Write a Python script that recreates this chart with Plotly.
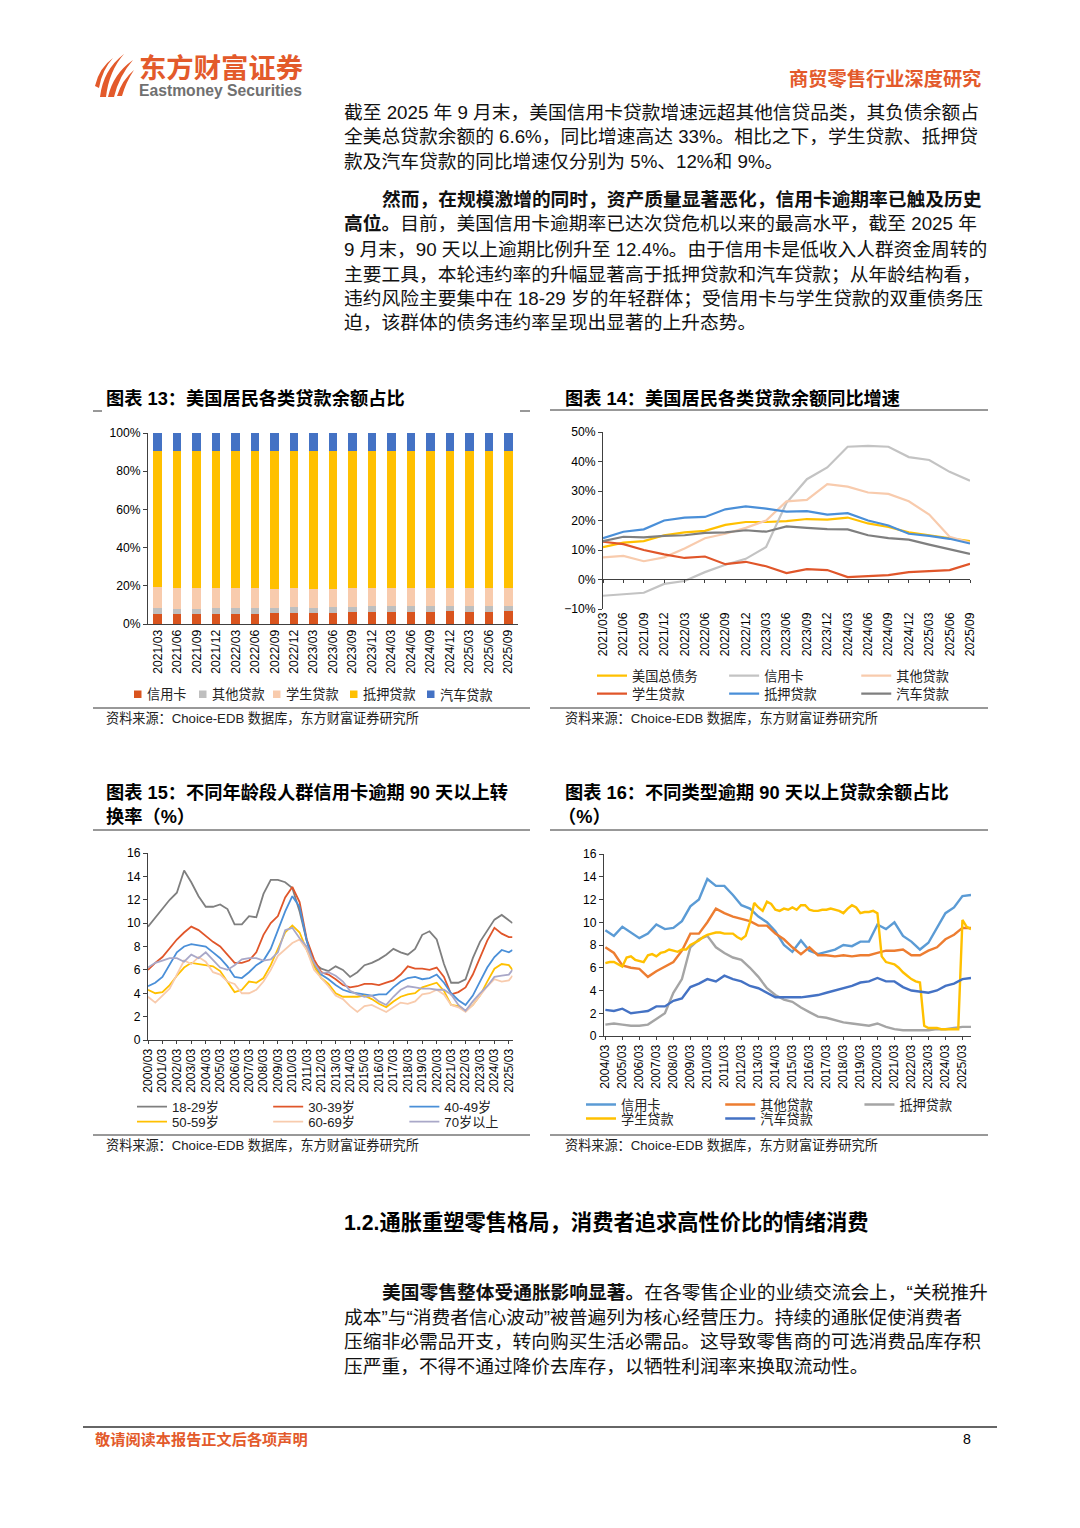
import plotly.graph_objects as go

W, H = 1080, 1528
FONT = "Liberation Sans, Noto Sans CJK SC, sans-serif"
ORANGE = "#E35A2B"
# the rendered page shows the figure inset by ~7px on every side; map reference pixels accordingly
PAD = 7
FS = W / (W - 2 * PAD)


def px(x):
    return (x - PAD) / (W - 2 * PAD)


def py(y):
    return 1 - (y - PAD) / (H - 2 * PAD)


# ---------------- data ----------------
# Chart 13: share of household loan balances (%)
quarters = ["2021/03", "2021/06", "2021/09", "2021/12", "2022/03", "2022/06", "2022/09",
            "2022/12", "2023/03", "2023/06", "2023/09", "2023/12", "2024/03", "2024/06",
            "2024/09", "2024/12", "2025/03", "2025/06", "2025/09"]
share_names = ["信用卡", "其他贷款", "学生贷款", "抵押贷款", "汽车贷款"]
share_credit = [5.3, 5.2, 5.2, 5.4, 5.3, 5.5, 5.7, 5.8, 5.7, 6.0, 6.1, 6.4, 6.3, 6.4, 6.4, 6.6, 6.4, 6.5, 6.6]
share_other = [2.9, 2.9, 2.9, 2.9, 2.9, 2.9, 2.8, 2.9, 2.8, 2.8, 2.9, 3.0, 2.9, 2.9, 2.9, 3.0, 2.9, 2.9, 2.9]
share_student = [11.0, 10.9, 10.7, 10.6, 10.4, 10.2, 9.9, 9.9, 9.8, 9.7, 9.7, 9.6, 9.5, 9.5, 9.4, 9.4, 9.4, 9.3, 9.2]
share_mortgage = [71.3, 71.4, 71.6, 71.5, 71.8, 71.8, 72.0, 71.8, 72.1, 72.0, 71.8, 71.5, 71.9, 71.8, 72.0, 71.7, 72.1, 72.1, 72.1]
share_auto = [9.5, 9.6, 9.6, 9.6, 9.6, 9.6, 9.6, 9.6, 9.6, 9.5, 9.5, 9.5, 9.4, 9.4, 9.3, 9.3, 9.2, 9.2, 9.2]
share_colors = ["#D9541E", "#BFBFBF", "#F8CBAD", "#FFC000", "#4472C4"]

# Chart 14: YoY growth of balances (%)
growth_names = ["美国总债务", "信用卡", "其他贷款", "学生贷款", "抵押贷款", "汽车贷款"]
growth_total = [11.0, 12.5, 13.0, 15.0, 16.0, 16.5, 18.5, 19.5, 19.5, 19.8, 20.5, 20.3, 21.0, 19.0, 17.8, 16.0, 15.0, 14.0, 13.0]
growth_card = [-5.5, -5.0, -4.5, -1.5, -0.5, 2.5, 5.0, 7.0, 11.0, 26.0, 34.0, 38.0, 45.0, 45.3, 45.0, 41.5, 40.5, 36.5, 33.5]
growth_other = [7.5, 8.0, 6.2, 7.5, 10.5, 14.0, 15.5, 17.5, 20.0, 26.5, 27.0, 32.3, 31.5, 29.5, 29.0, 26.5, 22.0, 14.5, 12.5]
growth_student = [12.8, 12.0, 10.0, 8.5, 7.3, 7.8, 5.2, 6.0, 4.5, 2.2, 3.5, 3.2, 0.8, 1.2, 1.5, 2.5, 2.8, 3.2, 5.3]
growth_mortgage = [14.0, 16.2, 17.0, 20.0, 21.0, 21.2, 23.8, 24.8, 24.0, 23.0, 23.2, 22.0, 22.5, 20.0, 18.3, 15.5, 14.8, 13.8, 12.2]
growth_auto = [13.0, 14.5, 14.3, 14.8, 15.0, 15.8, 16.0, 16.7, 16.2, 18.0, 17.5, 17.1, 17.0, 15.0, 14.0, 13.5, 11.8, 10.3, 8.7]
growth_colors = ["#FFC000", "#C3C3C3", "#F8CBAD", "#E0562A", "#4A8FD8", "#7F7F7F"]

# Chart 15: credit card 90+ day transition rate by age (%)
dates15 = [f"{y}-{m:02d}-01" for y in range(2000, 2025) for m in (3, 9)] + ["2025-03-01", "2025-06-01"]
age_names = ["18-29岁", "30-39岁", "40-49岁", "50-59岁", "60-69岁", "70岁以上"]
age_18_29 = [9.7, 10.5, 11.3, 12.0, 12.6, 14.5, 13.5, 12.3, 11.4, 11.4, 11.6, 11.2, 9.9, 9.9, 10.6, 10.5,
             12.5, 13.7, 13.7, 13.5, 13.0, 11.0, 8.5, 6.6, 6.1, 5.9, 6.3, 6.0, 5.4, 5.8, 6.4, 6.6,
             6.9, 7.3, 7.8, 7.5, 7.3, 7.8, 9.0, 9.3, 8.6, 6.5, 4.9, 4.9, 5.2, 7.0, 8.4, 9.4, 10.3, 10.7, 10.2, 10.0]
age_30_39 = [6.0, 6.6, 7.1, 7.9, 8.6, 9.2, 9.7, 9.4, 8.9, 8.4, 8.0, 7.3, 6.6, 6.6, 6.8, 7.5,
             9.0, 10.0, 10.6, 12.2, 13.1, 11.8, 8.6, 6.9, 5.8, 5.6, 5.2, 4.7, 4.5, 4.6, 4.8, 4.8,
             4.7, 4.9, 5.1, 5.6, 6.3, 6.1, 6.1, 6.0, 6.2, 5.4, 3.9, 4.1, 4.5, 5.6, 7.0, 8.5, 9.6, 9.1, 8.8, 8.8]
age_40_49 = [4.6, 4.9, 5.4, 6.5, 7.5, 8.0, 8.2, 8.1, 8.0, 7.5, 7.0, 6.3, 5.4, 5.3, 5.8, 6.4,
             6.8, 7.8, 9.4, 11.0, 12.3, 11.4, 8.5, 6.4, 5.6, 5.2, 4.7, 4.3, 4.1, 4.0, 3.9, 3.8,
             3.9, 3.9, 4.5, 5.0, 5.3, 5.4, 5.2, 5.3, 5.6, 4.9, 4.0, 3.4, 3.0, 3.8, 5.0, 6.2, 7.1, 7.7, 7.5, 7.7]
age_50_59 = [4.3, 4.0, 4.1, 4.7, 5.5, 6.2, 6.6, 6.5, 6.4, 6.3, 5.9, 5.0, 4.1, 4.3, 5.0, 4.9,
             5.3, 6.4, 7.8, 9.2, 9.8, 9.2, 7.7, 6.3, 5.3, 4.8, 4.0, 3.7, 3.7, 3.7, 3.8, 3.5,
             3.1, 2.8, 3.3, 3.7, 3.9, 4.0, 4.5, 4.7, 4.9, 4.2, 3.0, 2.9, 2.5, 3.0, 3.8, 5.0, 6.1, 6.5, 6.4, 6.0]
age_60_69 = [3.7, 3.2, 3.8, 4.4, 5.6, 6.8, 6.5, 7.1, 6.7, 5.8, 5.6, 5.0, 4.8, 4.0, 4.0, 4.3,
             5.0, 6.0, 7.2, 7.8, 8.3, 8.6, 7.7, 6.0, 5.3, 4.6, 3.8, 3.5, 2.9, 2.4, 2.9, 3.0,
             2.7, 2.4, 2.8, 3.2, 3.1, 3.3, 3.9, 4.0, 4.3, 3.9, 3.0, 2.8, 2.4, 3.0, 3.8, 4.6, 5.2, 5.0, 5.1, 5.5]
age_70_plus = [6.2, 6.6, 6.8, 7.0, 7.0, 6.7, 7.3, 7.0, 7.5, 6.8, 6.2, 6.0, 6.4, 6.9, 7.0, 7.0,
               6.8, 6.9, 7.5, 9.4, 9.6, 8.7, 8.0, 6.6, 5.7, 5.8, 5.5, 5.0, 4.2, 3.9, 3.7, 3.8,
               3.3, 3.0, 3.7, 4.3, 4.6, 4.5, 4.4, 4.4, 4.3, 4.3, 3.9, 3.0, 2.5, 3.3, 4.0, 4.6, 5.4, 5.5, 5.6, 6.0]
age_colors = ["#7F7F7F", "#E0562A", "#4A8FD8", "#FFC000", "#F8CBAD", "#A9A8C8"]

# Chart 16: share of balance 90+ days delinquent by loan type (%)
dates16 = [f"{y}-{m:02d}-01" for y in range(2004, 2026) for m in (3, 9)]
dates16_q = [f"{y}-{m:02d}-01" for y in range(2004, 2026) for m in (3, 6, 9, 12)][:87]
dq_card = [9.3, 8.8, 9.6, 9.1, 8.6, 9.0, 9.8, 9.4, 9.5, 10.1, 11.4, 12.0, 13.8, 13.2, 13.2, 12.4,
           11.5, 11.2, 10.5, 10.0, 9.2, 8.0, 7.4, 8.4, 7.5, 7.2, 7.4, 7.6, 8.0, 7.9, 8.3, 8.3,
           9.8, 9.4, 10.0, 8.8, 8.3, 7.6, 8.2, 9.5, 10.8, 11.3, 12.3, 12.4]
dq_other = [7.8, 7.3, 6.2, 6.0, 5.9, 5.2, 5.7, 6.1, 6.5, 7.5, 9.0, 9.0, 10.0, 11.2, 10.8, 10.5,
            10.3, 10.1, 9.7, 9.7, 9.0, 8.5, 7.8, 7.2, 7.8, 7.1, 7.1, 7.0, 7.1, 7.0, 7.1, 7.1,
            7.3, 7.5, 7.5, 7.6, 7.1, 7.1, 7.5, 7.8, 8.5, 8.9, 9.5, 9.5]
dq_mortgage = [1.0, 1.1, 1.0, 0.9, 0.9, 1.0, 1.5, 2.0, 3.8, 5.0, 7.8, 8.5, 8.8, 7.8, 7.3, 6.9,
               6.7, 6.0, 5.2, 4.2, 3.6, 3.2, 3.0, 2.5, 2.1, 1.7, 1.6, 1.4, 1.2, 1.1, 1.0, 0.9,
               1.1, 0.8, 0.6, 0.5, 0.5, 0.5, 0.5, 0.6, 0.6, 0.7, 0.8, 0.8]
dq_auto = [2.3, 2.2, 2.4, 2.0, 2.1, 2.2, 2.6, 2.6, 3.1, 3.3, 4.3, 4.6, 5.0, 4.8, 5.3, 5.0,
           4.8, 4.4, 4.2, 3.8, 3.4, 3.4, 3.4, 3.4, 3.5, 3.6, 3.8, 4.0, 4.2, 4.4, 4.7, 4.8,
           5.1, 4.8, 4.8, 4.3, 4.0, 3.9, 3.8, 4.0, 4.4, 4.6, 5.0, 5.1]
dq_student_q = [6.4, 6.5, 6.5, 6.3, 6.1, 6.9, 7.0, 6.7, 6.6, 6.5, 7.1, 7.2, 7.0, 7.3, 7.4, 7.6,
                7.5, 7.4, 7.6, 7.6, 8.0, 8.2, 8.4, 8.7, 8.9, 9.0, 9.1, 9.1, 9.0, 9.0, 9.0, 8.7,
                8.5, 8.8, 10.0, 11.7, 11.3, 11.0, 11.8, 11.6, 11.1, 11.0, 11.2, 11.1, 11.3, 11.1, 11.5, 11.5,
                11.1, 11.0, 11.0, 11.1, 11.1, 11.2, 11.1, 11.0, 10.8, 11.2, 11.5, 11.3, 10.8, 10.9, 10.9, 11.0,
                10.8, 7.0, 6.5, 6.4, 6.3, 6.0, 5.6, 5.3, 5.0, 4.8, 4.7, 0.9, 0.7, 0.7, 0.7, 0.6,
                0.6, 0.6, 0.6, 0.6, 10.2, 9.6, 9.4]
dq_colors = {"信用卡": "#5B9BD5", "其他贷款": "#ED7D31", "抵押贷款": "#A5A5A5",
             "学生贷款": "#FFC000", "汽车贷款": "#4472C4"}

# ---------------- figure ----------------
fig = go.Figure()

# chart 13 bars
for name, vals, col in zip(share_names,
                           [share_credit, share_other, share_student, share_mortgage, share_auto],
                           share_colors):
    fig.add_trace(go.Bar(x=quarters, y=vals, name=name, marker=dict(color=col, line=dict(width=0)),
                         xaxis="x", yaxis="y", showlegend=False, hoverinfo="skip"))

# chart 14 lines
growth_series = [growth_total, growth_card, growth_other, growth_student, growth_mortgage, growth_auto]
for i, (name, vals, col) in enumerate(zip(growth_names, growth_series, growth_colors)):
    fig.add_trace(go.Scatter(x=quarters, y=vals, name=name, mode="lines",
                             line=dict(color=col, width=2.2), xaxis="x2", yaxis="y2",
                             legend="legend" if i < 3 else "legend2"))
# zero-line axis for chart 14 (ticks on the 0% line)
fig.add_trace(go.Scatter(x=quarters, y=[None] * len(quarters), mode="lines", xaxis="x5", yaxis="y2",
                         showlegend=False, hoverinfo="skip"))

# chart 15 lines
age_series = [age_18_29, age_30_39, age_40_49, age_50_59, age_60_69, age_70_plus]
for i, (name, vals, col) in enumerate(zip(age_names, age_series, age_colors)):
    fig.add_trace(go.Scatter(x=dates15, y=vals, name=name, mode="lines",
                             line=dict(color=col, width=1.8), xaxis="x3", yaxis="y3",
                             legend="legend3" if i < 3 else "legend4"))

# chart 16 lines
for name, xs, vals, leg in [("信用卡", dates16, dq_card, "legend5"),
                            ("其他贷款", dates16, dq_other, "legend5"),
                            ("抵押贷款", dates16, dq_mortgage, "legend5"),
                            ("学生贷款", dates16_q, dq_student_q, "legend6"),
                            ("汽车贷款", dates16, dq_auto, "legend6")]:
    fig.add_trace(go.Scatter(x=xs, y=vals, name=name, mode="lines",
                             line=dict(color=dq_colors[name], width=2.4), xaxis="x4", yaxis="y4",
                             legend=leg))


def ax(**kw):
    base = dict(showgrid=False, zeroline=False, showline=True, linecolor="#404040", linewidth=1,
                tickfont=dict(family=FONT, size=12 * FS, color="#000"), ticks="outside",
                tickcolor="#404040", ticklen=4, fixedrange=True)
    base.update(kw)
    return base


def leg(x, y, ew):
    return dict(x=px(x), y=py(y), xanchor="left", yanchor="middle", orientation="h",
                entrywidth=ew * FS, entrywidthmode="pixels", itemwidth=30,
                font=dict(family=FONT, size=13 * FS, color="#222"),
                bgcolor="rgba(0,0,0,0)", borderwidth=0, traceorder="normal")


fig.update_layout(
    width=W, height=H, margin=dict(l=0, r=0, t=0, b=0),
    paper_bgcolor="white", plot_bgcolor="white",
    barmode="stack", bargap=0.56, showlegend=True,
    xaxis=ax(domain=[px(148), px(518)], anchor="y", type="category", range=[-0.5, 18.5],
             tickangle=-90, ticks=""),
    yaxis=ax(domain=[py(624), py(433)], anchor="x", range=[0, 100], dtick=20, ticksuffix="%"),
    xaxis2=ax(domain=[px(603), px(970)], anchor="y2", type="category", range=[0, 18],
              tickangle=-90, ticks="", showline=False),
    yaxis2=ax(domain=[py(609), py(432)], anchor="x2", range=[-10, 50], dtick=10, ticksuffix="%"),
    xaxis5=ax(overlaying="x2", anchor="free", position=py(579), type="category", range=[0, 18],
              showticklabels=False, ticklen=3),
    xaxis3=ax(domain=[px(148), px(512.5)], anchor="y3", type="date",
              range=["2000-03-01", "2025-06-01"], tick0="2000-03-01", dtick="M12",
              tickformat="%Y/%m", tickangle=-90, ticklen=3),
    yaxis3=ax(domain=[py(1040), py(853)], anchor="x3", range=[0, 16], dtick=2),
    xaxis4=ax(domain=[px(604), px(971)], anchor="y4", type="date",
              range=["2004-02-01", "2025-09-01"], tick0="2004-03-01", dtick="M12",
              tickformat="%Y/%m", tickangle=-90, ticklen=3),
    yaxis4=ax(domain=[py(1036), py(854)], anchor="x4", range=[0, 16], dtick=2),
    legend=leg(592, 676, 86),
    legend2=leg(592, 694, 86),
    legend3=leg(132, 1107, 90),
    legend4=leg(132, 1122, 90),
    legend5=leg(581, 1105, 93),
    legend6=leg(581, 1119, 93),
)

annotations = []
shapes = []


def text(x, y, s, size, color="#111", anchor="left", family=FONT):
    annotations.append(dict(x=px(x), y=py(y), xref="paper", yref="paper", text=s, showarrow=False,
                            xanchor=anchor, yanchor="middle",
                            font=dict(family=family, size=size * FS, color=color)))


def hline(x0, x1, y, color="#333", width=1):
    shapes.append(dict(type="line", xref="paper", yref="paper", x0=px(x0), x1=px(x1),
                       y0=py(y), y1=py(y), line=dict(color=color, width=width)))


def path_px(points):
    out = []
    for cmd in points:
        op = cmd[0]
        nums = cmd[1:]
        coords = []
        for i in range(0, len(nums), 2):
            coords.append(f"{px(nums[i]):.5f},{py(nums[i + 1]):.5f}")
        out.append(op + " ".join(coords))
    return " ".join(out) + " Z"


# logo
flames = [
    [("M", 95, 86), ("Q", 99, 68, 113, 58), ("Q", 102, 70, 99, 88)],
    [("M", 100, 97), ("Q", 103, 70, 124, 54), ("Q", 109, 71, 106, 97)],
    [("M", 108, 97), ("Q", 113, 74, 133, 60), ("Q", 119, 76, 114, 97)],
    [("M", 117, 96), ("Q", 122, 80, 134, 70), ("Q", 126, 82, 122, 96)],
]
for fl in flames:
    shapes.append(dict(type="path", xref="paper", yref="paper", path=path_px(fl),
                       fillcolor=ORANGE, line=dict(width=0)))
text(137, 68, "<b>东方财富证券</b>", 27, ORANGE)
text(137, 91, "<b>Eastmoney Securities</b>", 15.5, "#707070")
text(983, 79, "<b>商贸零售行业深度研究</b>", 19, ORANGE, anchor="right")

# body paragraphs
BODY = 18.5
p1 = ["截至 2025 年 9 月末，美国信用卡贷款增速远超其他信贷品类，其负债余额占",
      "全美总贷款余额的 6.6%，同比增速高达 33%。相比之下，学生贷款、抵押贷",
      "款及汽车贷款的同比增速仅分别为 5%、12%和 9%。"]
for s, y in zip(p1, [112, 136, 161]):
    text(342, y, s, BODY)
text(380, 199, "<b>然而，在规模激增的同时，资产质量显著恶化，信用卡逾期率已触及历史</b>", BODY)
p2 = ["<b>高位。</b>目前，美国信用卡逾期率已达次贷危机以来的最高水平，截至 2025 年",
      "9 月末，90 天以上逾期比例升至 12.4%。由于信用卡是低收入人群资金周转的",
      "主要工具，本轮违约率的升幅显著高于抵押贷款和汽车贷款；从年龄结构看，",
      "违约风险主要集中在 18-29 岁的年轻群体；受信用卡与学生贷款的双重债务压",
      "迫，该群体的债务违约率呈现出显著的上升态势。"]
for s, y in zip(p2, [224, 249, 274, 299, 323]):
    text(342, y, s, BODY)

# chart titles
TITLE = 18
text(104, 398, "<b>图表 13：美国居民各类贷款余额占比</b>", TITLE, "#000")
text(563, 398, "<b>图表 14：美国居民各类贷款余额同比增速</b>", TITLE, "#000")
text(104, 793, "<b>图表 15：不同年龄段人群信用卡逾期 90 天以上转</b>", TITLE, "#000")
text(104, 817, "<b>换率（%）</b>", TITLE, "#000")
text(563, 793, "<b>图表 16：不同类型逾期 90 天以上贷款余额占比</b>", TITLE, "#000")
text(556, 817, "<b>（%）</b>", TITLE, "#000")

hline(93, 102, 411)
hline(520, 530, 411)
hline(550, 988, 410)
hline(93, 530, 830)
hline(550, 988, 830)
hline(93, 530, 708)
hline(550, 988, 708)
hline(93, 530, 1135)
hline(550, 988, 1135)

SRC = "资料来源：Choice-EDB 数据库，东方财富证券研究所"
text(104, 718, SRC, 13, "#222")
text(563, 718, SRC, 13, "#222")
text(104, 1145, SRC, 13, "#222")
text(563, 1145, SRC, 13, "#222")

# chart 13 legend (square keys)
for name, col, sx in zip(share_names, share_colors, [134, 199, 273, 350, 427]):
    shapes.append(dict(type="rect", xref="paper", yref="paper", x0=px(sx), x1=px(sx + 7.5),
                       y0=py(698), y1=py(690.5), fillcolor=col, line=dict(width=0)))
    text(sx + 11, 694.5, name, 13, "#222")

# section heading and paragraph 3
text(342, 1222, "<b>1.2.通胀重塑零售格局，消费者追求高性价比的情绪消费</b>", 21, "#000")
text(380, 1292, "<b>美国零售整体受通胀影响显著。</b>在各零售企业的业绩交流会上，“关税推升", BODY)
p3 = ["成本”与“消费者信心波动”被普遍列为核心经营压力。持续的通胀促使消费者",
      "压缩非必需品开支，转向购买生活必需品。这导致零售商的可选消费品库存积",
      "压严重，不得不通过降价去库存，以牺牲利润率来换取流动性。"]
for s, y in zip(p3, [1317, 1341, 1366]):
    text(342, y, s, BODY)

# footer
hline(83, 997, 1427, "#333", 1.3)
text(93, 1439, "<b>敬请阅读本报告正文后各项声明</b>", 15, ORANGE)
text(961, 1439, "8", 14, "#000")

fig.update_layout(annotations=annotations, shapes=shapes)
fig.write_html("out.html", config={"displayModeBar": False},
               post_script="document.body.style.margin='0';document.body.style.overflow='hidden';")
